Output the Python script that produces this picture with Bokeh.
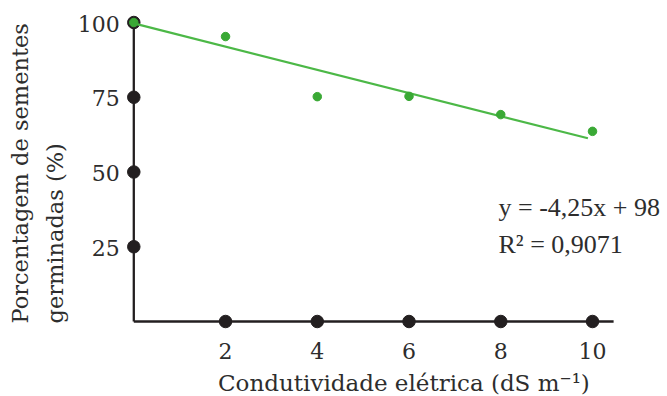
from bokeh.plotting import figure
from bokeh.models import Range1d, Label
from bokeh.core.properties import value
from bokeh.embed import file_html
from bokeh.resources import INLINE

# data
conductivity = [0, 2, 4, 6, 8, 10]
germination = [100, 95.3, 75.2, 75.3, 69.2, 63.6]
trend_x = [0, 9.9]
trend_y = [99.7, 61.3]
x_ticks = [2, 4, 6, 8, 10]
y_ticks = [25, 50, 75, 100]
x_tick_labels = ["2", "4", "6", "8", "10"]
y_tick_labels = ["25", "50", "75", "100"]
x_title = "Condutividade elétrica (dS m⁻¹)"
y_title_lines = ["Porcentagem de sementes", "germinadas (%)"]
eq_lines = ["y = -4,25x + 98", "R² = 0,9071"]

GREEN_LINE = "#4cb847"
GREEN_DOT = "#3aa935"
AXIS = "#231f20"
TEXT = "#2d2d2d"
SERIF = "DejaVu Serif"

# frame covers the whole canvas; scales: x 0 -> 133.3px, 45.87 px/unit; y 0 -> 321px, 2.99 px/unit
p = figure(width=667, height=396, output_backend="svg", toolbar_location=None,
           x_range=Range1d(-2.906, 11.635), y_range=Range1d(-25.08, 107.36),
           x_axis_location=None, y_axis_location=None,
           min_border=0)
p.outline_line_color = None
p.xgrid.visible = False
p.ygrid.visible = False
p.background_fill_color = "white"
p.border_fill_color = "white"

# axis lines
p.segment(x0=[0, 0], y0=[0, 0], x1=[10.46, 0], y1=[0, 100], line_color=AXIS, line_width=2.3)

# tick dots
p.scatter(x=x_ticks, y=[0] * len(x_ticks), size=12.5, color=AXIS)
p.scatter(x=[0] * len(y_ticks), y=y_ticks, size=12.5, color=AXIS)

# tick labels
p.text(x=x_ticks, y=[0] * len(x_ticks), text=x_tick_labels, y_offset=29,
       text_font=value(SERIF), text_font_size="22px", text_color=TEXT,
       text_align="center", text_baseline="alphabetic")
p.text(x=[0] * len(y_ticks), y=y_ticks, text=y_tick_labels, x_offset=-14, y_offset=1,
       text_font=value(SERIF), text_font_size="22px", text_color=TEXT,
       text_align="right", text_baseline="alphabetic")

# trend line and data
p.line(trend_x, trend_y, line_color=GREEN_LINE, line_width=2.2)
p.scatter(conductivity, germination, size=8.5, color=GREEN_DOT)

# axis titles
p.add_layout(Label(x=1.836, y=-20.4, text=x_title, text_font=SERIF, text_font_size="23px",
                   text_color=TEXT, text_align="left", text_baseline="alphabetic"))
for xv, line in zip([-2.47, -1.728], y_title_lines):
    p.add_layout(Label(x=xv, y=-0.67, text=line, angle=1.5708, text_font=SERIF,
                       text_font_size="22.5px", text_color=TEXT, text_align="left",
                       text_baseline="alphabetic"))

# equation
for yv, line in zip([38.13, 25.76], eq_lines):
    p.add_layout(Label(x=7.951, y=yv, text=line, text_font="Liberation Serif",
                       text_font_size="26px", text_color=TEXT, text_align="left",
                       text_baseline="alphabetic"))

open("out.html", "w").write(file_html(p, INLINE))
